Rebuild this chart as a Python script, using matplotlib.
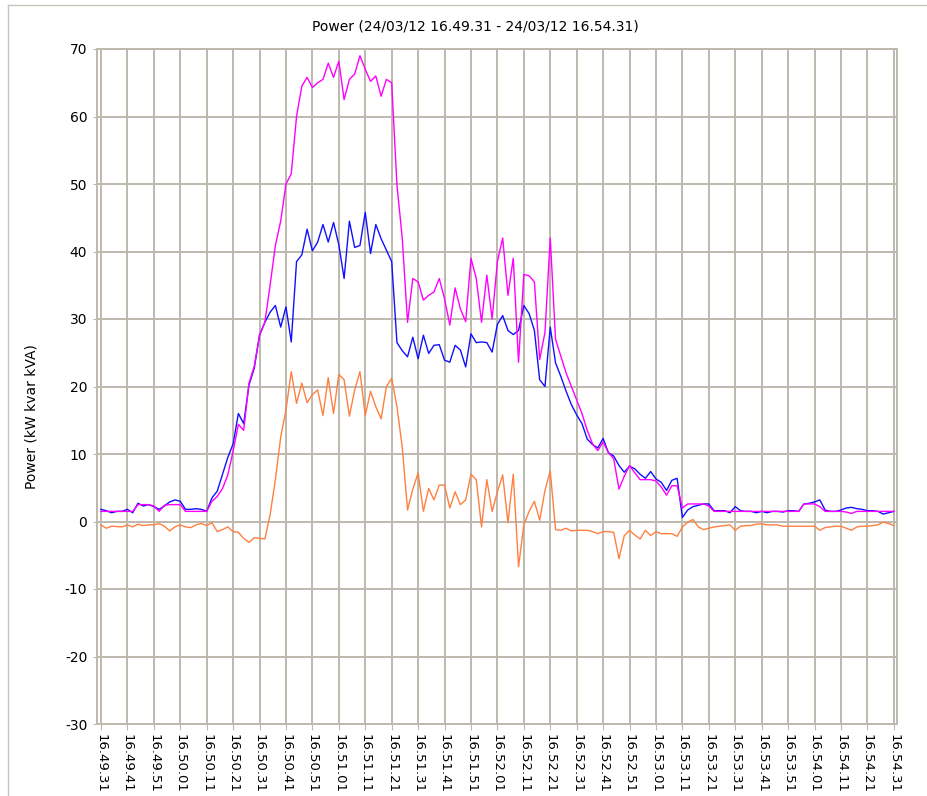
import matplotlib
matplotlib.use("Agg")
import matplotlib.pyplot as plt
import numpy as np
from matplotlib.lines import Line2D

plt.rcParams["axes.unicode_minus"] = False

# sample every 2 s from 16.49.31 to 16.54.31
secs = np.arange(0, 301, 2)

tick_labels = ["16.49.31", "16.49.41", "16.49.51", "16.50.01", "16.50.11", "16.50.21",
               "16.50.31", "16.50.41", "16.50.51", "16.51.01", "16.51.11", "16.51.21",
               "16.51.31", "16.51.41", "16.51.51", "16.52.01", "16.52.11", "16.52.21",
               "16.52.31", "16.52.41", "16.52.51", "16.53.01", "16.53.11", "16.53.21",
               "16.53.31", "16.53.41", "16.53.51", "16.54.01", "16.54.11", "16.54.21",
               "16.54.31"]

kva = [1.5, 1.5, 1.5, 1.5, 1.5, 1.5, 1.5, 2.5, 2.5, 2.5,
       2.3, 1.5, 2.4, 2.5, 2.5, 2.5, 1.5, 1.5, 1.5, 1.5,
       1.5, 3.0, 3.7, 4.9, 6.9, 10.4, 14.4, 13.5, 20.5, 23.0,
       27.6, 29.5, 35.0, 40.9, 44.5, 50.0, 51.5, 60.0, 64.5, 65.8,
       64.3, 65.0, 65.5, 67.9, 65.8, 68.2, 62.5, 65.5, 66.3, 69.0,
       67.0, 65.2, 66.0, 63.0, 65.5, 65.0, 49.8, 42.0, 29.5, 36.0,
       35.5, 32.8, 33.5, 34.0, 36.0, 33.0, 29.1, 34.6, 31.5, 29.6,
       39.0, 36.0, 29.5, 36.5, 30.0, 38.5, 42.0, 33.5, 39.0, 23.6,
       36.6, 36.4, 35.5, 24.0, 28.0, 42.0, 27.0, 24.5, 22.0, 20.0,
       18.0, 16.0, 13.5, 11.5, 10.5, 11.8, 10.2, 9.3, 4.8, 6.7,
       8.3, 7.2, 6.2, 6.2, 6.2, 6.0, 5.1, 3.9, 5.3, 5.3,
       2.0, 2.6, 2.6, 2.6, 2.6, 2.3, 1.5, 1.5, 1.5, 1.5,
       1.5, 1.5, 1.5, 1.5, 1.5, 1.5, 1.5, 1.5, 1.5, 1.5,
       1.5, 1.5, 1.5, 2.6, 2.6, 2.6, 2.2, 1.5, 1.5, 1.5,
       1.5, 1.4, 1.2, 1.5, 1.5, 1.5, 1.5, 1.5, 1.5, 1.5,
       1.5]

kw = [1.8, 1.6, 1.3, 1.5, 1.5, 1.8, 1.3, 2.7, 2.3, 2.5,
      2.2, 1.8, 2.3, 2.9, 3.2, 3.0, 1.8, 1.8, 1.9, 1.8,
      1.5, 3.5, 4.5, 7.0, 9.5, 11.5, 16.0, 14.5, 20.2, 22.7,
      27.6, 29.5, 31.0, 32.0, 28.8, 31.8, 26.6, 38.5, 39.5, 43.3,
      40.1, 41.4, 44.0, 41.4, 44.3, 41.0, 36.0, 44.5, 40.6, 40.9,
      45.8, 39.7, 44.0, 41.9, 40.2, 38.5, 26.5, 25.3, 24.4, 27.3,
      24.1, 27.6, 24.9, 26.1, 26.2, 23.9, 23.6, 26.1, 25.4, 22.9,
      27.8, 26.5, 26.6, 26.5, 25.1, 29.2, 30.5, 28.3, 27.7, 28.3,
      32.0, 30.8, 28.3, 21.0, 20.0, 28.8, 23.5, 21.5, 19.3, 17.3,
      15.8, 14.5, 12.2, 11.4, 10.9, 12.3, 10.2, 9.7, 8.3, 7.3,
      8.2, 7.8, 7.0, 6.4, 7.4, 6.3, 5.8, 4.6, 6.1, 6.4,
      0.6, 1.7, 2.2, 2.4, 2.6, 2.6, 1.6, 1.6, 1.6, 1.3,
      2.2, 1.6, 1.5, 1.5, 1.3, 1.5, 1.3, 1.5, 1.5, 1.4,
      1.6, 1.6, 1.5, 2.6, 2.7, 2.9, 3.2, 1.7, 1.5, 1.5,
      1.7, 2.0, 2.1, 1.9, 1.8, 1.6, 1.6, 1.5, 1.1, 1.3,
      1.5]

kvar = [-0.5, -1.0, -0.7, -0.75, -0.8, -0.5, -0.8, -0.4, -0.6, -0.5,
        -0.5, -0.3, -0.7, -1.4, -0.8, -0.5, -0.8, -0.9, -0.5, -0.3,
        -0.6, -0.2, -1.5, -1.2, -0.8, -1.5, -1.6, -2.5, -3.1, -2.4,
        -2.5, -2.6, 1.0, 6.2, 12.5, 16.5, 22.2, 17.5, 20.5, 17.6,
        18.8, 19.5, 15.7, 21.3, 16.0, 21.8, 21.0, 15.6, 19.5, 22.2,
        15.7, 19.3, 17.0, 15.2, 20.0, 21.2, 17.0, 11.0, 1.7, 4.8,
        7.2, 1.5, 4.9, 3.2, 5.4, 5.4, 2.0, 4.4, 2.5, 3.2,
        7.0, 6.2, -0.8, 6.2, 1.5, 4.4, 6.9, -0.2, 7.0, -6.7,
        -0.5, 1.5, 3.0, 0.2, 4.6, 7.5, -1.2, -1.3, -1.0, -1.4,
        -1.3, -1.3, -1.3, -1.5, -1.8, -1.5, -1.5, -1.6, -5.5, -2.1,
        -1.3, -2.0, -2.6, -1.3, -2.1, -1.5, -1.8, -1.8, -1.8, -2.2,
        -0.8, -0.1, 0.3, -0.8, -1.2, -1.0, -0.8, -0.7, -0.6, -0.5,
        -1.3, -0.7, -0.6, -0.6, -0.4, -0.35, -0.5, -0.5, -0.5, -0.7,
        -0.7, -0.7, -0.7, -0.7, -0.7, -0.7, -1.3, -0.9, -0.8, -0.7,
        -0.7, -1.0, -1.3, -0.8, -0.7, -0.7, -0.6, -0.5, -0.1, -0.3,
        -0.6]

grid_col = "#bdb9ad"

fig = plt.figure(figsize=(9.28, 7.96), dpi=100)
ax = fig.add_axes([97 / 928, 72 / 796, 800 / 928, 675 / 796])

ax.plot(secs, kvar, color="#ff8040", lw=1.0)
ax.plot(secs, kw, color="#1010ff", lw=1.0)
ax.plot(secs, kva, color="#ff00ff", lw=1.0)

ax.set_xlim(-1.5, 301.2)
ax.set_ylim(-30, 70)
ax.set_yticks(range(-30, 71, 10))
ax.set_xticks(range(0, 301, 10))
ax.set_xticklabels(tick_labels, rotation=270, fontsize=9.5)
ax.tick_params(axis="y", labelsize=10, length=3, color=grid_col, pad=4)
ax.tick_params(axis="x", length=4, color=grid_col, pad=3)
ax.grid(True, color=grid_col, lw=1.4)
ax.set_axisbelow(True)
for s in ax.spines.values():
    s.set_color(grid_col)
    s.set_linewidth(1.4)

fig.text(475 / 928, 1 - 27 / 796, "Power (24/03/12 16.49.31 - 24/03/12 16.54.31)",
         ha="center", va="center", fontsize=10)
fig.text(32 / 928, 1 - 417 / 796, "Power (kW kvar kVA)", rotation=90,
         ha="center", va="center", fontsize=10)

# outer panel frame
fig.add_artist(Line2D([8.5 / 928, 8.5 / 928], [0, 1 - 4.5 / 796], transform=fig.transFigure,
                      color="#c8c4b8", lw=1.0))
fig.add_artist(Line2D([8.5 / 928, 1], [1 - 4.5 / 796, 1 - 4.5 / 796], transform=fig.transFigure,
                      color="#c8c4b8", lw=1.0))

fig.savefig("out.png", dpi=100)
